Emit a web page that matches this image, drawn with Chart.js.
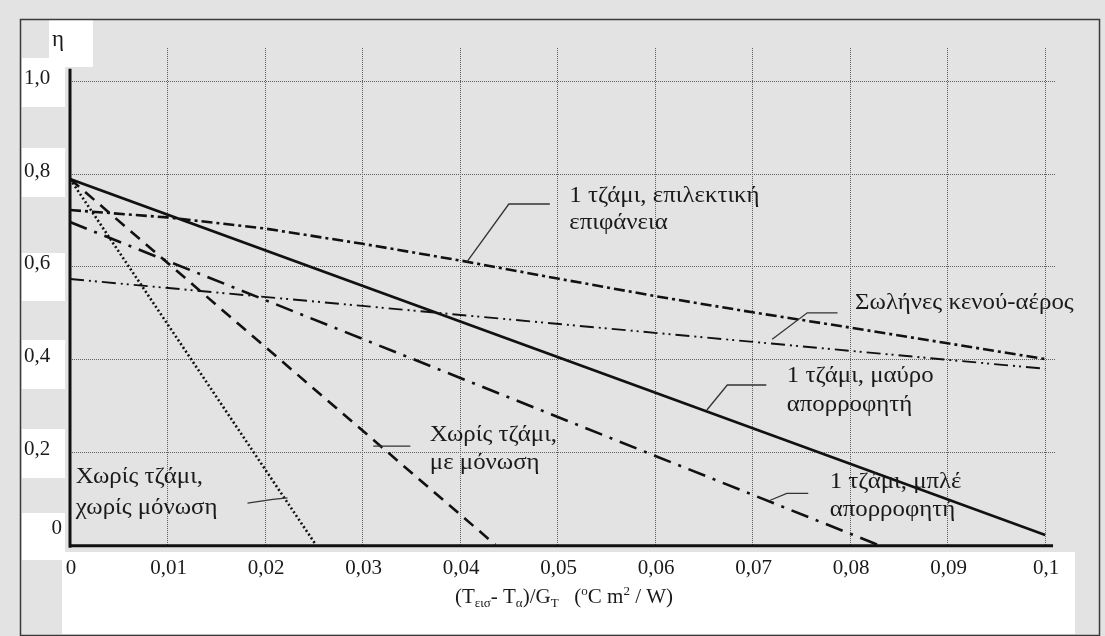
<!DOCTYPE html>
<html>
<head>
<meta charset="utf-8">
<script src="https://cdn.jsdelivr.net/npm/chart.js"></script>
<style>
  body { margin: 0; background: #e4e4e4; }
  canvas { display: block; }
</style>
</head>
<body>
<canvas id="chart" width="1105" height="636"></canvas>
<script>
// Δεδομένα: απόδοση η συναρτήσει (Tεισ - Tα)/GT
const mavroX = [0, 0.1];
const mavroY = [0.79, 0.021];
const xorisMonosiX = [0, 0.0252];
const xorisMonosiY = [0.79, 0];
const meMonosiX = [0, 0.0436];
const meMonosiY = [0.79, 0];
const mpleX = [0, 0.0828];
const mpleY = [0.697, 0];
const epilektikiX = [0, 0.01, 0.02, 0.03, 0.04, 0.05, 0.06, 0.07, 0.08, 0.09, 0.1];
const epilektikiY = [0.723, 0.707, 0.683, 0.65, 0.614, 0.575, 0.537, 0.502, 0.469, 0.435, 0.401];
const solinesX = [0, 0.1];
const solinesY = [0.574, 0.38];

const xTickValues = [0, 0.01, 0.02, 0.03, 0.04, 0.05, 0.06, 0.07, 0.08, 0.09, 0.1];
const xTickLabels = ['0', '0,01', '0,02', '0,03', '0,04', '0,05', '0,06', '0,07', '0,08', '0,09', '0,1'];
const yTickValues = [0, 0.2, 0.4, 0.6, 0.8, 1.0];
const yTickLabels = ['0', '0,2', '0,4', '0,6', '0,8', '1,0'];

// Ετικέτες καμπυλών (κείμενο, x, y σε μονάδες δεδομένων)
const curveLabels = [
  ['1 τζάμι, επιλεκτική', 0.0512, 0.754],
  ['επιφάνεια', 0.0512, 0.695],
  ['Σωλήνες κενού-αέρος', 0.0805, 0.522],
  ['1 τζάμι, μαύρο', 0.0735, 0.364],
  ['απορροφητή', 0.0735, 0.302],
  ['Χωρίς τζάμι,', 0.0369, 0.236],
  ['με μόνωση', 0.0369, 0.176],
  ['1 τζάμι, μπλέ', 0.0779, 0.135],
  ['απορροφητή', 0.0779, 0.075],
  ['Χωρίς τζάμι,', 0.0006, 0.146],
  ['χωρίς μόνωση', 0.0006, 0.079]
];
const leaders = [
  [[0.0407, 0.611], [0.0450, 0.736], [0.0492, 0.736]],
  [[0.0720, 0.444], [0.0756, 0.501], [0.0787, 0.501]],
  [[0.0653, 0.291], [0.0674, 0.345], [0.0714, 0.345]],
  [[0.0311, 0.213], [0.0349, 0.213]],
  [[0.0718, 0.096], [0.0735, 0.111], [0.0757, 0.111]],
  [[0.0182, 0.090], [0.0208, 0.098], [0.0223, 0.101]]
];

const serif = "'Liberation Serif', 'DejaVu Serif', serif";
const ink = '#1a1a1a';

function pts(xs, ys) {
  return xs.map((x, i) => ({ x: x, y: ys[i] }));
}

function line(data, width, dash) {
  return {
    data: data,
    borderColor: '#111',
    borderWidth: width,
    borderDash: dash,
    borderCapStyle: 'butt',
    pointRadius: 0,
    fill: false,
    tension: 0
  };
}

// Φόντο, πλαίσιο και λευκά κουτιά όπως στο σκαναρισμένο σχήμα
const backgroundPlugin = {
  id: 'background',
  beforeDraw(chart) {
    const ctx = chart.ctx;
    ctx.save();
    ctx.fillStyle = '#e3e3e3';
    ctx.fillRect(0, 0, chart.width, chart.height);
    ctx.fillStyle = '#ffffff';
    [[49, 20, 44, 47], [22, 58, 43, 49], [22, 148, 43, 49], [22, 253, 43, 48],
     [22, 340, 43, 49], [22, 429, 43, 49], [22, 513, 43, 47], [62, 552, 1013, 82]
    ].forEach(r => ctx.fillRect(r[0], r[1], r[2], r[3]));
    ctx.strokeStyle = '#3a3a3a';
    ctx.lineWidth = 1.5;
    ctx.strokeRect(20.5, 19.5, 1079, 616);
    ctx.restore();
  }
};

const textPlugin = {
  id: 'texts',
  afterDatasetsDraw(chart) {
    const ctx = chart.ctx;
    const xs = chart.scales.x;
    const ys = chart.scales.y;
    const px = v => xs.getPixelForValue(v);
    const py = v => ys.getPixelForValue(v);
    ctx.save();

    // άξονες
    ctx.strokeStyle = '#111';
    ctx.lineWidth = 3;
    ctx.beginPath();
    ctx.moveTo(px(0), py(1.028));
    ctx.lineTo(px(0), py(0) + 3);
    ctx.moveTo(px(0) - 1.5, py(0) + 1);
    ctx.lineTo(px(0.1008), py(0) + 1);
    ctx.stroke();

    // γραμμές οδηγοί
    ctx.strokeStyle = '#333';
    ctx.lineWidth = 1.3;
    leaders.forEach(l => {
      ctx.beginPath();
      l.forEach((p, i) => i ? ctx.lineTo(px(p[0]), py(p[1])) : ctx.moveTo(px(p[0]), py(p[1])));
      ctx.stroke();
    });

    ctx.fillStyle = ink;
    ctx.font = '21px ' + serif;
    ctx.textBaseline = 'middle';

    // ετικέτες άξονα y
    yTickValues.forEach((v, i) => {
      if (v === 0) {
        ctx.textAlign = 'right';
        ctx.fillText(yTickLabels[i], 62, py(v) - 16);
      } else {
        ctx.textAlign = 'left';
        ctx.fillText(yTickLabels[i], 24, py(v) - 3);
      }
    });
    // ετικέτες άξονα x
    ctx.textAlign = 'center';
    xTickValues.forEach((v, i) => ctx.fillText(xTickLabels[i], px(v) + 1, 568));

    // ετικέτες καμπυλών (λίγο πλατύτερα γράμματα όπως στο πρωτότυπο)
    ctx.textAlign = 'left';
    ctx.font = '23px ' + serif;
    curveLabels.forEach(l => {
      ctx.save();
      ctx.translate(px(l[1]), py(l[2]));
      ctx.scale(1.08, 1);
      ctx.fillText(l[0], 0, 0);
      ctx.restore();
    });

    // η
    ctx.textAlign = 'center';
    ctx.fillText('η', 58, 40);

    // τίτλος άξονα x με δείκτες
    ctx.textAlign = 'left';
    ctx.textBaseline = 'alphabetic';
    let x = 455;
    const base = 603;
    const parts = [
      ['(T', 0], ['εισ', 1], ['- T', 0], ['α', 1], [')/G', 0], ['T', 1],
      ['   (', 0], ['o', 2], ['C m', 0], ['2', 2], [' / W)', 0]
    ];
    parts.forEach(p => {
      ctx.font = (p[1] ? '13px ' : '21px ') + serif;
      const dy = p[1] === 1 ? 4 : p[1] === 2 ? -8 : 0;
      ctx.fillText(p[0], x, base + dy);
      x += ctx.measureText(p[0]).width;
    });
    ctx.restore();
  }
};

new Chart(document.getElementById('chart'), {
  type: 'line',
  data: {
    datasets: [
      line(pts(mavroX, mavroY), 2.6, []),
      line(pts(xorisMonosiX, xorisMonosiY), 2.6, [2, 2.5]),
      line(pts(meMonosiX, meMonosiY), 2.6, [12, 8]),
      line(pts(mpleX, mpleY), 2.6, [18, 8, 3, 8]),
      line(pts(epilektikiX, epilektikiY), 2.6, [11, 4, 3, 4]),
      line(pts(solinesX, solinesY), 1.9, [14, 5, 2, 4, 2, 5])
    ]
  },
  options: {
    responsive: false,
    animation: false,
    layout: { padding: { left: 70, top: 48, right: 50, bottom: 89 } },
    plugins: { legend: { display: false }, tooltip: { enabled: false } },
    scales: {
      x: {
        type: 'linear',
        min: 0,
        max: 0.101,
        afterBuildTicks: s => { s.ticks = xTickValues.filter(v => v > 0).map(v => ({ value: v })); },
        ticks: { display: false },
        grid: { color: '#5e5e5e', lineWidth: 1, drawTicks: false },
        border: { display: false, dash: [1, 1] }
      },
      y: {
        type: 'linear',
        min: -0.005,
        max: 1.073,
        afterBuildTicks: s => { s.ticks = yTickValues.filter(v => v > 0).map(v => ({ value: v })); },
        ticks: { display: false },
        grid: { color: '#5e5e5e', lineWidth: 1, drawTicks: false },
        border: { display: false, dash: [1, 1] }
      }
    }
  },
  plugins: [backgroundPlugin, textPlugin]
});
</script>
</body>
</html>
